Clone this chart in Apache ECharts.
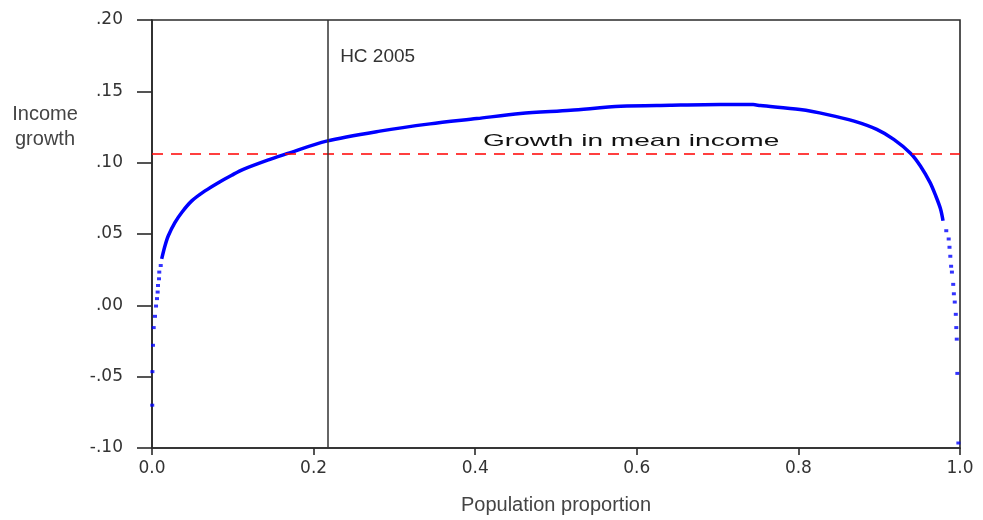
<!DOCTYPE html>
<html><head><meta charset="utf-8">
<script src="https://cdn.jsdelivr.net/npm/echarts@6/dist/echarts.min.js"></script>
<style>html,body{margin:0;padding:0;background:#fff}#c{width:983px;height:520px}</style>
</head><body><div id="c"></div>
<script>
// Axis settings
const xRange = [0, 1, 0.2];
const yRange = [-0.10, 0.20, 0.05];
const xAxisTitle = 'Population proportion';
const yAxisTitle = 'Income\ngrowth';

// Reference lines
const hcLine = 0.218;            // HC 2005 (population proportion)
const hcLabel = 'HC 2005';
const meanGrowth = 0.1065;       // growth in mean income
const meanLabel = 'Growth in mean income';

// Growth incidence curve: sparse bottom tail
const leftTail = [
  [0.0003,-0.070],[0.0005,-0.0465],[0.0012,-0.028],[0.0021,-0.0156],[0.0037,-0.0077],
  [0.0050,-0.0005],[0.0062,0.0047],[0.0070,0.0093],[0.0074,0.0139],[0.0087,0.0186],
  [0.0090,0.0233],[0.0108,0.0279]
];
// Growth incidence curve: dense middle part
const mainCurve = [
  [0.0120,0.0326],[0.0161,0.0418],[0.0202,0.0488],[0.0285,0.0581],[0.0368,0.0651],
  [0.0492,0.0732],[0.0656,0.0802],[0.0821,0.0860],[0.0987,0.0912],[0.113,0.0953],
  [0.146,0.1023],[0.168,0.1065],[0.216,0.1151],[0.282,0.1221],[0.344,0.1272],
  [0.402,0.1309],[0.456,0.1344],[0.518,0.1367],[0.580,0.1395],[0.641,0.1402],
  [0.703,0.1407],[0.744,0.1407],[0.753,0.1400],[0.802,0.1372],[0.836,0.1337],
  [0.869,0.1291],[0.897,0.1233],[0.918,0.1163],[0.939,0.1065],[0.951,0.0977],
  [0.963,0.0860],[0.970,0.0767],[0.976,0.0674],[0.979,0.0593]
];
// Growth incidence curve: sparse top tail
const rightTail = [
  [0.983,0.0523],[0.986,0.0465],[0.987,0.0407],[0.988,0.0344],[0.989,0.0274],
  [0.990,0.0233],[0.9916,0.0147],[0.9924,0.0081],[0.9935,0.0023],[0.9948,-0.0063],
  [0.9954,-0.0156],[0.9960,-0.0237],[0.9967,-0.0477],[0.998,-0.0965]
];

const chart = echarts.init(document.getElementById('c'), null, {renderer: 'canvas'});
const axisColor = '#2a2a2a';
const tickFont = {fontFamily: 'DejaVu Sans', fontSize: 17, color: '#333'};

chart.setOption({
  animation: false,
  backgroundColor: '#fff',
  grid: {left: 152, right: 23, top: 20, bottom: 70, show: true, borderColor: axisColor, borderWidth: 1.6, backgroundColor: 'transparent'},
  xAxis: {
    type: 'value', min: xRange[0], max: xRange[1], interval: xRange[2],
    name: xAxisTitle, nameLocation: 'middle', nameGap: 47,
    nameTextStyle: {fontFamily: 'Liberation Sans', fontSize: 20, color: '#444'},
    axisLine: {show: true, onZero: false, lineStyle: {color: axisColor, width: 1.6}},
    axisTick: {show: true, inside: false, length: 7, lineStyle: {color: axisColor, width: 1.6}},
    axisLabel: Object.assign({margin: 12, formatter: v => v.toFixed(1)}, tickFont),
    splitLine: {show: false}
  },
  yAxis: {
    type: 'value', min: yRange[0], max: yRange[1], interval: yRange[2],
    axisLine: {show: true, onZero: false, lineStyle: {color: axisColor, width: 1.6}},
    axisTick: {show: true, inside: false, length: 15, lineStyle: {color: axisColor, width: 1.6}},
    axisLabel: Object.assign({margin: 29, formatter: v => {
      const s = Math.abs(v).toFixed(2).replace(/^0/, '');
      return (v < -1e-9 ? '-' : '') + s;
    }}, tickFont),
    splitLine: {show: false}
  },
  series: [
    {
      type: 'line', data: mainCurve, showSymbol: false, smooth: 0.3,
      lineStyle: {color: '#0000ff', width: 3.5}, z: 3,
      markLine: {
        silent: true, symbol: 'none', label: {show: false}, precision: 6,
        data: [
          {yAxis: meanGrowth, lineStyle: {color: '#ff0000', width: 1.5, type: [11, 8]}},
          {xAxis: hcLine, lineStyle: {color: '#333', width: 1.5, type: 'solid'}}
        ]
      }
    },
    {type: 'scatter', data: leftTail, symbol: 'rect', symbolSize: [4, 3], itemStyle: {color: '#0000ff'}, z: 3},
    {type: 'scatter', data: rightTail, symbol: 'rect', symbolSize: [4, 3], itemStyle: {color: '#0000ff'}, z: 3}
  ]
});

const hcPos = chart.convertToPixel({gridIndex: 0}, [hcLine, 0.174]);
const meanPos = chart.convertToPixel({gridIndex: 0}, [0.593, meanGrowth]);
chart.setOption({
  graphic: [
    {type: 'text', x: 45, y: 102, style: {text: yAxisTitle, font: '20px "Liberation Sans"', fill: '#444', lineHeight: 25, textAlign: 'center'}},
    {type: 'text', x: hcPos[0] + 12, y: hcPos[1], style: {text: hcLabel, font: '19px "Liberation Sans"', fill: '#333', textAlign: 'left', textVerticalAlign: 'middle'}},
    {type: 'text', x: meanPos[0], y: meanPos[1] - 12, scaleX: 1.65, style: {text: meanLabel, font: '17px "Liberation Sans"', fill: '#111', textAlign: 'center', textVerticalAlign: 'middle'}}
  ]
});
</script></body></html>
